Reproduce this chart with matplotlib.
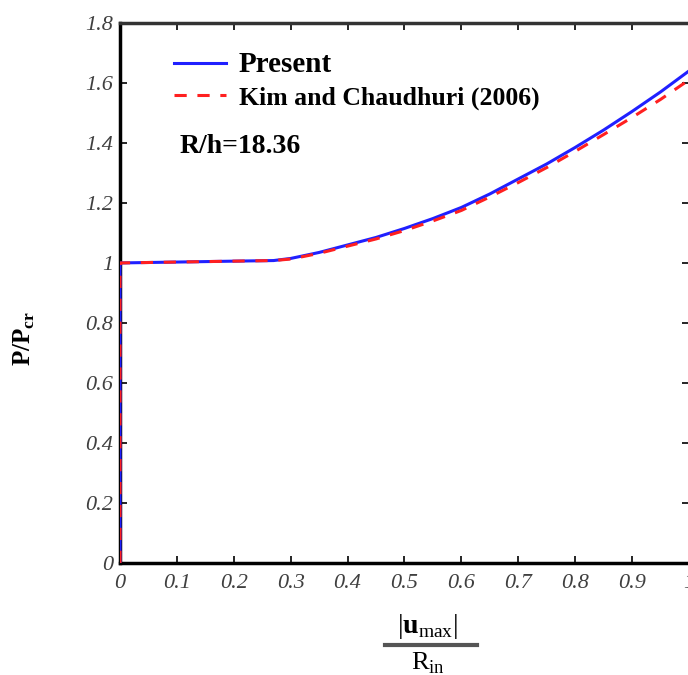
import numpy as np
import matplotlib
matplotlib.use('Agg')
import matplotlib.pyplot as plt
from matplotlib.ticker import FuncFormatter

plt.rcParams['font.family'] = ['Liberation Serif', 'DejaVu Serif']
plt.rcParams['mathtext.fontset'] = 'custom'
plt.rcParams['mathtext.rm'] = 'Liberation Serif'
plt.rcParams['mathtext.bf'] = 'Liberation Serif:bold'

# curves
present_x = [0, 0, 0.1, 0.2, 0.27, 0.3, 0.35, 0.4, 0.45, 0.5, 0.55, 0.6, 0.65, 0.7, 0.75, 0.8, 0.85, 0.9, 0.95, 1.0]
present_y = [0, 1.0, 1.003, 1.006, 1.008, 1.015, 1.035, 1.06, 1.085, 1.115, 1.148, 1.185, 1.23, 1.28, 1.33, 1.385, 1.443, 1.505, 1.57, 1.64]
kim_x = [0, 0, 0.1, 0.2, 0.27, 0.3, 0.35, 0.4, 0.45, 0.5, 0.55, 0.6, 0.65, 0.7, 0.75, 0.8, 0.85, 0.9, 0.95, 1.0]
kim_y = [0, 1.0, 1.003, 1.006, 1.008, 1.013, 1.032, 1.056, 1.08, 1.108, 1.14, 1.175, 1.22, 1.268, 1.318, 1.372, 1.428, 1.485, 1.545, 1.61]

fig = plt.figure(figsize=(6.88, 6.75), dpi=100)
ax = fig.add_axes([0.1744, 0.166, 0.827, 0.800])

ax.plot(present_x, present_y, color='#2020ff', lw=2.2, label='Present', zorder=3)
ax.plot(kim_x, kim_y, color='#ff2020', lw=2.2, ls=(0, (4, 3.5)), label='Kim and Chaudhuri (2006)', zorder=4)

ax.set_xlim(0, 1)
ax.set_ylim(0, 1.8)
ax.set_xticks(np.arange(0, 1.01, 0.1))
ax.set_yticks(np.arange(0, 1.81, 0.2))
fmt = FuncFormatter(lambda v, p: '%g' % round(v, 2))
ax.xaxis.set_major_formatter(fmt)
ax.yaxis.set_major_formatter(fmt)
ax.tick_params(direction='in', length=5, width=1.2, top=True, right=True,
               labelsize=16, labelcolor='#404040')
ax.tick_params(axis='x', pad=8)
ax.tick_params(axis='y', pad=5)
for lab in ax.get_xticklabels() + ax.get_yticklabels():
    lab.set_fontstyle('italic')

ax.spines['left'].set_linewidth(2.5)
ax.spines['bottom'].set_linewidth(2.5)
ax.spines['top'].set_linewidth(2.5)
ax.spines['top'].set_color('#333333')
ax.spines['right'].set_linewidth(1.2)

leg = ax.legend(loc='upper left', bbox_to_anchor=(0.055, 0.99), frameon=False,
                handlelength=2.0, handletextpad=0.5, labelspacing=0.3,
                prop={'weight': 'bold', 'size': 18.5})
leg.get_texts()[0].set_fontsize(21)

ax.text(0.104, 0.772, 'R/h=18.36', transform=ax.transAxes, fontsize=20,
        fontweight='bold', color='black', va='center')

# y label
fig.text(0.036, 0.498, r'P/P$_{\mathbf{cr}}$', rotation=90, fontsize=18,
         fontweight='bold', ha='center', va='center')

# x label as a fraction
fig.text(0.622, 0.05, r'$|$' + r'$\mathbf{u}$' + r'$_{\mathrm{max}}$' + r'$|$',
         fontsize=20, ha='center', va='bottom')
fig.add_artist(plt.Line2D([0.56, 0.693], [0.044, 0.044], color='#555555', lw=3,
                          transform=fig.transFigure))
fig.text(0.622, 0.036, r'R$_{\mathrm{in}}$', fontsize=19, ha='center', va='top')

fig.savefig('out.png', dpi=100)
